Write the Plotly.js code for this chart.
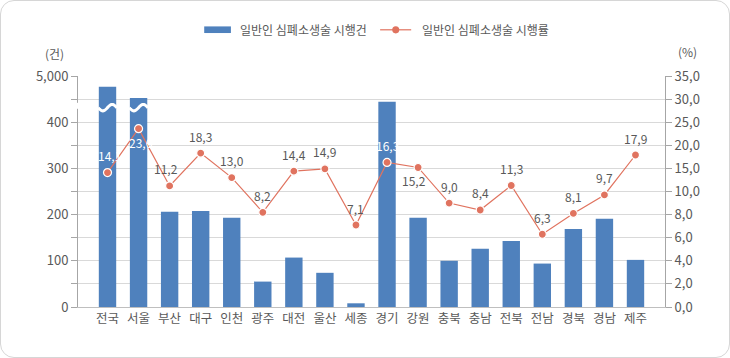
<!DOCTYPE html>
<html><head><meta charset="utf-8">
<script src="https://cdn.plot.ly/plotly-3.0.1.min.js"></script>
<style>
html,body{margin:0;padding:0;background:#fff;}
#chart{position:absolute;left:0;top:0;width:730px;height:358px;}
#frame{position:absolute;left:0;top:0;width:730px;height:358px;box-sizing:border-box;border:1px solid #d6d6d6;border-radius:14px;pointer-events:none;}
</style></head>
<body>
<div id="chart"></div><div id="frame"></div>
<script>
const categories = ['전국','서울','부산','대구','인천','광주','대전','울산','세종','경기','강원','충북','충남','전북','전남','경북','경남','제주'];
const cprCounts = [2900, 690, 206, 208, 193, 55, 107, 74, 8, 444, 193, 100, 126, 143, 94, 169, 191, 102];
const cprRates = [14.1, 23.6, 11.2, 18.3, 13.0, 8.2, 14.4, 14.9, 7.1, 16.3, 15.2, 9.0, 8.4, 11.3, 6.3, 8.1, 9.7, 17.9];
const leftTickLabels = ['0','','100','','200','','300','','400','','5,000'];
const rightTickLabels = ['0,0','2,0','4,0','6,0','8,0','10,0','15,0','20,0','25,0','30,0','35,0'];
const seriesNames = ['일반인 심폐소생술 시행건','일반인 심폐소생술 시행률'];

// broken axis scales (grid units 0..10)
function countToUnit(v){ return v <= 450 ? v/50 : 9 + (v-450)/4550; }
function rateToUnit(r){ return r <= 10 ? r/2 : 5 + (r-10)/5; }

const FONT = '"Noto Sans CJK KR", "Noto Sans", sans-serif';
const GREY = '#595959';
const BLUE = '#4F81BD';
const RED = '#E0735F';
const xs = categories.map((c,i)=>i);

const bars = {
  type:'bar', x: xs, y: cprCounts.map(countToUnit), name: seriesNames[0],
  marker:{color:BLUE}, width:0.56, yaxis:'y', showlegend:false, hoverinfo:'skip'
};
const line = {
  type:'scatter', mode:'lines+markers', x: xs, y: cprRates.map(rateToUnit), name: seriesNames[1],
  yaxis:'y2', showlegend:false, cliponaxis:false,
  line:{color:RED, width:1.2},
  marker:{color:RED, size:8, line:{color:'#ffffff', width:1.2}},
  hoverinfo:'skip'
};

// break marks (white waves across the tall bars)
const shapes = [];
const breakUnit = 8.63;
cprCounts.forEach((v,i) => {
  if (v > 450) {
    let d = '';
    const n = 24, x0 = i - 0.30, x1 = i + 0.30;
    for (let k=0;k<=n;k++){
      const t = k/n;
      const xx = x0 + (x1-x0)*t;
      const yy = breakUnit - 0.14*Math.sin(2*Math.PI*t);
      d += (k===0?'M':'L') + xx.toFixed(4) + ',' + yy.toFixed(4);
    }
    shapes.push({type:'path', xref:'x', yref:'y', path:d, line:{color:'#ffffff', width:3}, layer:'above'});
  }
});
// gap in the left axis line
shapes.push({type:'rect', xref:'paper', yref:'y', x0:-0.012, x1:0.004, y0:8.58, y1:8.84, fillcolor:'#ffffff', line:{width:0}, layer:'above'});
// custom legend
shapes.push({type:'rect', xref:'paper', yref:'paper', x0:0.215, x1:0.2605, y0:1.186, y1:1.2147, fillcolor:BLUE, line:{width:0}});
shapes.push({type:'line', xref:'paper', yref:'paper', x0:0.5147, x1:0.5676, y0:1.2, y1:1.2, line:{color:RED, width:1.2}});
shapes.push({type:'circle', xref:'paper', yref:'paper', x0:0.5353, x1:0.5473, y0:1.1845, y1:1.2155, fillcolor:RED, line:{width:0}});

const annotations = [
  {xref:'paper', yref:'paper', x:0.273, y:1.2, xanchor:'left', yanchor:'middle', text:seriesNames[0], showarrow:false, font:{family:FONT, size:12, color:GREY}},
  {xref:'paper', yref:'paper', x:0.5827, y:1.2, xanchor:'left', yanchor:'middle', text:seriesNames[1], showarrow:false, font:{family:FONT, size:12, color:GREY}},
  {xref:'paper', yref:'paper', x:-0.0404, y:1.0965, xanchor:'center', yanchor:'middle', text:'(건)', showarrow:false, font:{family:FONT, size:12, color:GREY}},
  {xref:'paper', yref:'paper', x:1.039, y:1.105, xanchor:'center', yanchor:'middle', text:'(%)', showarrow:false, font:{family:FONT, size:12, color:GREY}}
];
// data labels
cprRates.forEach((r,i) => {
  const white = cprCounts[i] > 400;
  let ys = 17, xsft = 0;
  if (i === 1) { ys = -14; xsft = 2; }
  if (i === 10) { ys = -13; xsft = -4; }
  if (i === 2) { xsft = -4; }
  if (i === 0) { xsft = 2; }
  annotations.push({
    xref:'x', yref:'y2', x:i, y:rateToUnit(r), yshift:ys, xshift:xsft,
    xanchor:'center', yanchor:'middle', showarrow:false,
    text: r.toFixed(1).replace('.', ','),
    font:{family:FONT, size:12, color: white ? '#ffffff' : GREY}
  });
});

const layout = {
  width:730, height:358,
  margin:{l:78, r:65, t:76, b:51},
  paper_bgcolor:'rgba(0,0,0,0)', plot_bgcolor:'#ffffff',
  font:{family:FONT, size:13, color:GREY},
  xaxis:{
    type:'linear', range:[-0.95, 17.95], tickvals:xs, ticktext:categories,
    showgrid:false, zeroline:false, showline:true, linecolor:'#BFBFBF', linewidth:1,
    ticks:'', tickfont:{family:FONT, size:12.5, color:GREY}, fixedrange:true
  },
  yaxis:{
    range:[0,10], tickvals:[0,1,2,3,4,5,6,7,8,9,10], ticktext:leftTickLabels,
    showgrid:true, gridcolor:'#D9D9D9', gridwidth:1, zeroline:false,
    showline:true, linecolor:'#A6A6A6', linewidth:1, ticks:'outside', ticklen:6, tickcolor:'#A6A6A6',
    tickfont:{family:FONT, size:13, color:GREY}, fixedrange:true
  },
  yaxis2:{
    overlaying:'y', side:'right', range:[0,10], tickvals:[0,1,2,3,4,5,6,7,8,9,10], ticktext:rightTickLabels,
    showgrid:false, zeroline:false, showline:true, linecolor:'#A6A6A6', linewidth:1,
    ticks:'outside', ticklen:6, tickcolor:'#A6A6A6',
    tickfont:{family:FONT, size:13, color:GREY}, fixedrange:true
  },
  shapes: shapes,
  annotations: annotations,
  showlegend:false
};

Plotly.newPlot('chart', [bars, line], layout, {displayModeBar:false, staticPlot:true});
</script>
</body></html>
